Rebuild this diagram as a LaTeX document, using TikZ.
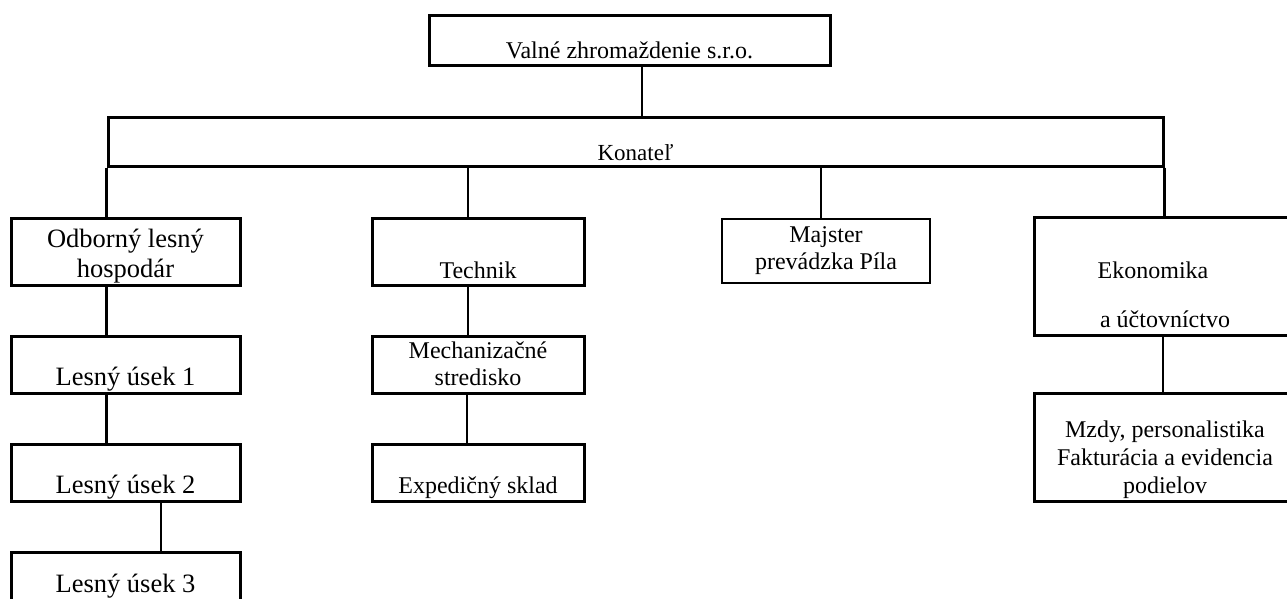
\documentclass[tikz,border=0pt]{standalone}
\usepackage{fontspec}
\setmainfont{Liberation Serif}
\usetikzlibrary{positioning}
\begin{document}
\begin{tikzpicture}[x=1pt,y=-1pt,
  every node/.style={draw,line width=3pt,inner sep=0pt,align=center,font=\fontsize{24}{27}\selectfont},
  big/.style={font=\fontsize{26.5}{30}\selectfont},
  link/.style={line width=2.4pt}]
  \useasboundingbox (0,0) rectangle (1287,598);
  \clip (0,0) rectangle (1287,598);
  \node[minimum width=401pt,text height=43pt,text depth=7pt,font=\fontsize{24}{27}\selectfont] (valne) at (629.5,40) {Valné zhromaždenie s.r.o.};
  \node[minimum width=1055pt,text height=43pt,text depth=6pt,font=\fontsize{23}{26}\selectfont] (konatel) at (635.5,141.5) {Konateľ};
  \node[big,minimum width=229pt,text height=59pt,text depth=8pt] (odborny) at (125.5,251.5) {Odborný lesný\\hospodár};
  \node[big,minimum width=229pt,text height=49pt,text depth=8pt] (lesny1) at (125.5,364.5) {Lesný úsek 1};
  \node[big,minimum width=229pt,text height=49pt,text depth=8pt] (lesny2) at (125.5,472.5) {Lesný úsek 2};
  \node[big,minimum width=229pt,text height=40pt,text depth=17pt] (lesny3) at (125.5,580.5) {Lesný úsek 3};
  \node[minimum width=212pt,text height=60pt,text depth=7pt] (technik) at (478,251.5) {Technik};
  \node[minimum width=212pt,text height=49pt,text depth=8pt] (mech) at (478,364.5) {Mechanizačné\\stredisko};
  \node[minimum width=212pt,text height=49pt,text depth=8pt] (exped) at (478,472.5) {Expedičný sklad};
  \node[line width=2pt,minimum width=208pt,text height=50pt,text depth=14pt] (majster) at (826,251) {Majster\\prevádzka Píla};
  \node[minimum width=262pt,text height=110pt,text depth=8pt] (ekon) at (1165,276) {Ekonomika\hspace*{24pt}\\[22pt]a účtovníctvo};
  \node[minimum width=262pt,text height=100pt,text depth=8pt,font=\fontsize{24}{28}\selectfont] (mzdy) at (1165,447) {Mzdy, personalistika\\Fakturácia a evidencia\\podielov};
  \draw[link] ([xshift=12.5pt]valne.south) -- ([xshift=12.5pt]valne.south |- konatel.north);
  \draw[link] (konatel.south west) -- (konatel.south west |- odborny.north);
  \draw[link] ([xshift=-10pt]technik.north |- konatel.south) -- ([xshift=-10pt]technik.north);
  \draw[link] ([xshift=-5pt]majster.north |- konatel.south) -- ([xshift=-5pt]majster.north);
  \draw[link] (konatel.south east) -- (konatel.south east |- ekon.north);
  \draw[link] (konatel.south west |- odborny.south) -- (konatel.south west |- lesny1.north);
  \draw[link] (konatel.south west |- lesny1.south) -- (konatel.south west |- lesny2.north);
  \draw[link] ([xshift=35.5pt]lesny2.south) -- ([xshift=35.5pt]lesny3.north);
  \draw[link] ([xshift=-10pt]technik.south) -- ([xshift=-10pt]mech.north);
  \draw[link] ([xshift=-11pt]mech.south) -- ([xshift=-11pt]exped.north);
  \draw[link] ([xshift=-2pt]ekon.south) -- ([xshift=-2pt]mzdy.north);
\end{tikzpicture}
\end{document}
